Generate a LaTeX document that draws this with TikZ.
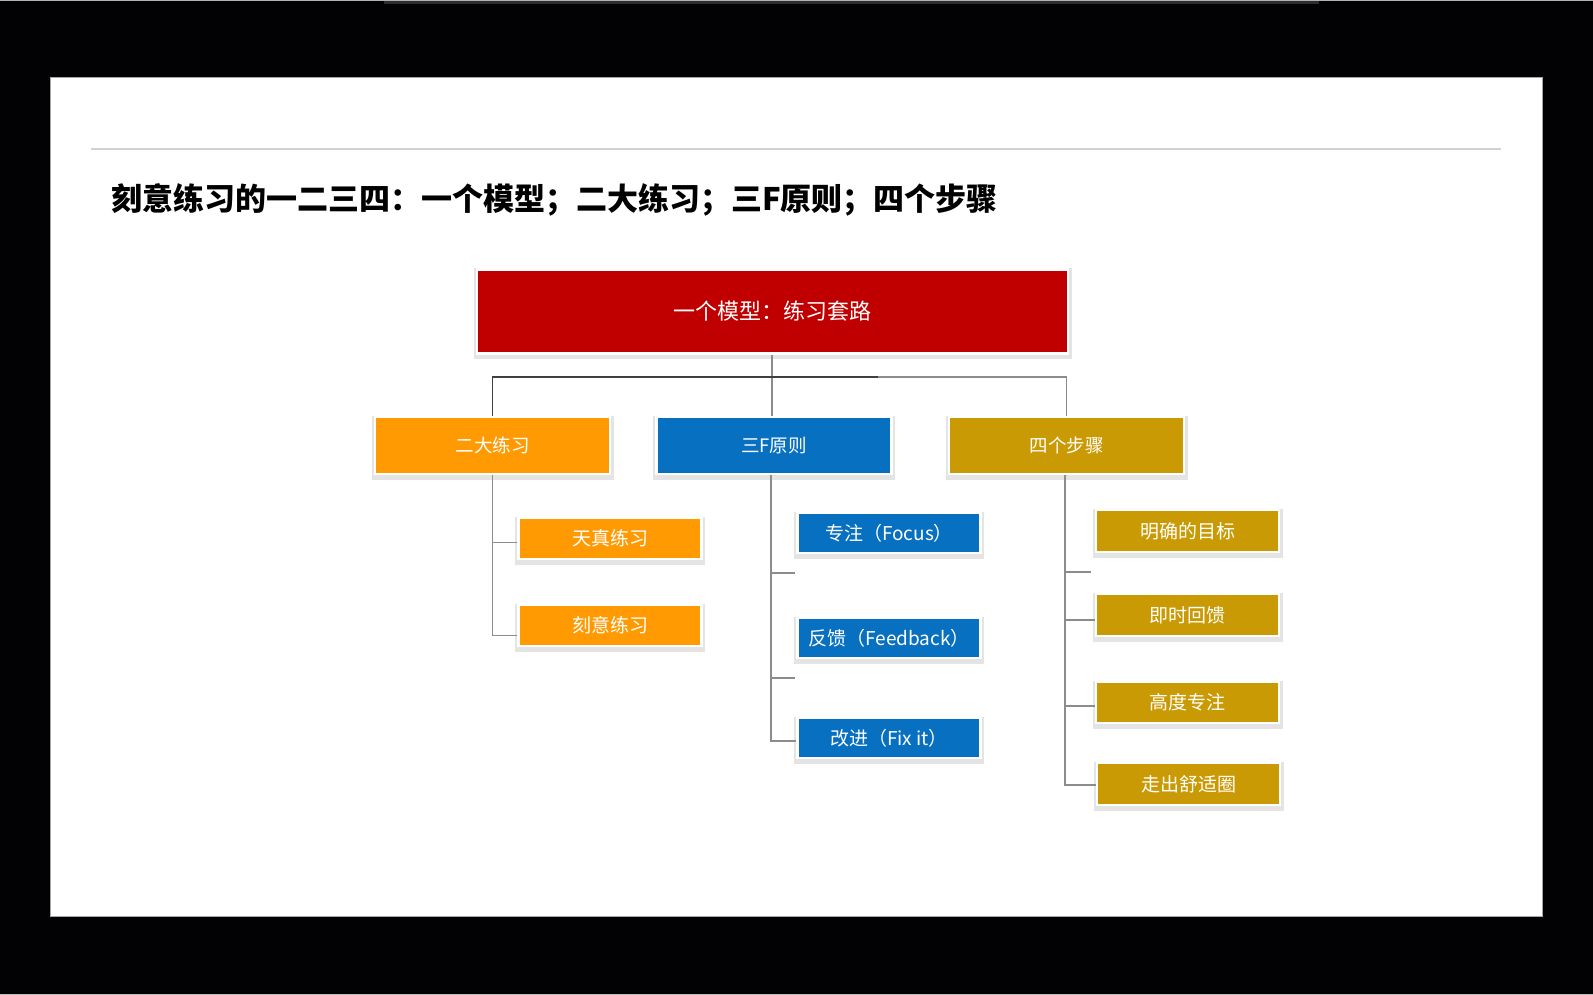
\documentclass[tikz,border=0pt]{standalone}
\usepackage{fontspec}
\setmainfont{Noto Sans CJK SC}
\usetikzlibrary{calc}
\definecolor{bgblack}{HTML}{020204}
\definecolor{cred}{HTML}{C00000}
\definecolor{corange}{HTML}{FF9A03}
\definecolor{cblue}{HTML}{0870C0}
\definecolor{cgold}{HTML}{CA9A05}
\definecolor{connc}{HTML}{8C8C8C}
\definecolor{conndk}{HTML}{404040}
\definecolor{sepc}{HTML}{D2D2D2}
\definecolor{halo}{HTML}{E4E4E4}
\tikzset{
  box/.style={draw=white, line width=2.5pt, text=white, inner sep=0pt, align=center,
    preaction={draw=halo, line width=7pt, transform canvas={yshift=-2pt}}},
  bigbox/.style={box, minimum width=591pt, minimum height=84pt, font=\fontsize{22}{25}\selectfont},
  midbox/.style={box, minimum width=235pt, minimum height=57pt, font=\fontsize{18.5}{21}\selectfont},
  smallbox/.style={box, minimum width=183pt, minimum height=41pt, font=\fontsize{19}{22}\selectfont},
  conn/.style={draw=connc, line width=1.3pt},
  conndark/.style={draw=conndk, line width=1.5pt},
}
\begin{document}
\begin{tikzpicture}[x=1pt,y=-1pt]
\useasboundingbox (0,0) rectangle (1593,995);
\fill[bgblack] (0,0) rectangle (1593,995);
% top thin strips
\fill[gray!60] (0,0) rectangle (1593,1.5);
\fill[gray!35!black] (384,1.5) rectangle (1319,4);
\fill[gray!50] (0,993.5) rectangle (1593,995);
% slide
\fill[white, draw=gray!70, line width=0.8pt] (50,77) rectangle (1542,916);
\draw[sepc, line width=2pt] (91,149) -- (1501,149);
% title
\node[anchor=west, inner sep=0pt, font=\bfseries\fontsize{31}{35}\selectfont] (title) at (111,200)
  {刻意练习的一二三四：一个模型；二大练习；三F原则；四个步骤};
% top box
\node[bigbox, fill=cred] (top) at (772.5,311.5) {一个模型：练习套路};
% second row
\node[midbox, fill=corange] (tE) at (492.5,445.5) {二大练习};
\node[midbox, fill=cblue] (tF) at (774,445.5) {三F原则};
\node[midbox, fill=cgold] (tS) at (1066.5,445.5) {四个步骤};
% orange children
\node[smallbox, fill=corange] (o1) at (610,538.5) {天真练习};
\node[smallbox, fill=corange] (o2) at (610,625.5) {刻意练习};
% blue children
\node[smallbox, fill=cblue, minimum height=40pt] (b1) at (889,533) {专注（Focus）};
\node[smallbox, fill=cblue, minimum height=40pt] (b2) at (889,638) {反馈（Feedback）};
\node[smallbox, fill=cblue, minimum height=40pt] (b3) at (889,738) {改进（Fix it）};
% gold children
\node[smallbox, fill=cgold, minimum height=42pt] (g1) at (1187.5,531) {明确的目标};
\node[smallbox, fill=cgold, minimum height=42pt] (g2) at (1187.5,615) {即时回馈};
\node[smallbox, fill=cgold, minimum height=41pt] (g3) at (1187.5,702.5) {高度专注};
\node[smallbox, fill=cgold, minimum height=42pt] (g4) at (1188.5,784) {走出舒适圈};
% top connectors
\coordinate (barL) at (492.5,377);
\coordinate (barM) at (878,377);
\draw[conn] (top.south -| tF.north) ++(-2,0) coordinate (vtop) -- (vtop |- tF.north);
\draw[conndark] (tE.north) -- (barL) -- (barM);
\draw[conn] (barM) -| (tS.north);
% orange branch lines
\draw[conn] (tE.south) |- ([yshift=-10pt]o2.west);
\draw[conn] (tE.south |- o1.west) ++(0,4) -- ([yshift=-4pt]o1.west);
% blue branch lines
\coordinate (bstub1) at (795,573);
\coordinate (bstub2) at (795,678);
\draw[conn] ([xshift=-3pt]tF.south) |- ([yshift=-3pt]b3.west);
\draw[conn] ([xshift=-3pt]tF.south |- bstub1) -- (bstub1);
\draw[conn] ([xshift=-3pt]tF.south |- bstub2) -- (bstub2);
% gold branch lines
\coordinate (gstub1) at (1091,572);
\draw[conn] ([xshift=-1.5pt]tS.south) |- ([yshift=-1pt]g4.west);
\draw[conn] ([xshift=-1.5pt]tS.south |- gstub1) -- (gstub1);
\draw[conn] ([xshift=-1.5pt]tS.south |- g2.west) ++(0,5) -- ([yshift=-5pt]g2.west);
\draw[conn] ([xshift=-1.5pt]tS.south |- g3.west) ++(0,3.5) -- ([yshift=-3.5pt]g3.west);
\end{tikzpicture}
\end{document}
